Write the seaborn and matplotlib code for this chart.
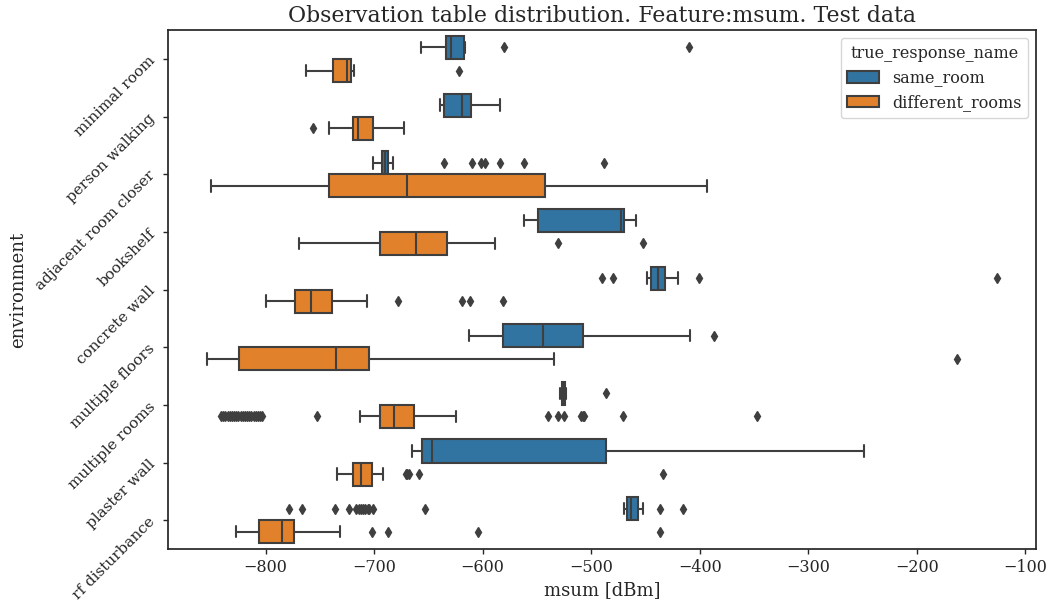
import numpy as np
import pandas as pd
import matplotlib
matplotlib.use("Agg")
import matplotlib.pyplot as plt
import seaborn as sns

environments = ["minimal room", "person walking", "adjacent room closer", "bookshelf",
                "concrete wall", "multiple floors", "multiple rooms", "plaster wall",
                "rf disturbance"]
hue_names = ["same_room", "different_rooms"]

# same_room box statistics (msum dBm)
same_whislo = [-657, -639, -701.5, -562, -448.5, -613, -528.5, -665, -470]
same_q1 = [-634, -636, -693, -549, -444.7, -581.5, -527, -655.5, -467]
same_med = [-629, -619, -690, -473, -438.5, -544, -526, -647, -463]
same_q3 = [-617, -611, -687, -470, -432, -507.3, -524.5, -486, -457.3]
same_whishi = [-616, -584, -683, -459, -420.5, -408.8, -523.5, -248.6, -452]
same_outliers = [
    [-580, -410],
    [],
    [-635.5, -610, -602, -598, -584, -562, -488.5],
    [],
    [-490, -479.6, -400.3, -126.6],
    [-387],
    [-486.3],
    [],
    [-778, -766.6, -736.3, -723, -716.5, -714, -712, -710, -708, -706, -704.3, -701,
     -653.2, -436.6, -415.5],
]

# different_rooms box statistics (msum dBm)
diff_whislo = [-762.5, -742, -850.3, -769.6, -799.2, -853.9, -712.9, -734, -826.8]
diff_q1 = [-738.3, -719.8, -742, -694.8, -772.9, -824.3, -694.5, -719.8, -805.8]
diff_med = [-725.4, -715.2, -670, -661.8, -758.4, -735.3, -682, -712, -784.7]
diff_q3 = [-721.5, -700.7, -542.2, -633.1, -738.9, -705, -663.1, -702, -774.2]
diff_whishi = [-718.2, -672.5, -393.6, -588.7, -706.6, -534, -624.6, -692.2, -731]
diff_outliers = [
    [-622],
    [-756.4],
    [],
    [-531, -452.6],
    [-677.7, -619, -611.4, -581.7],
    [-163.5],
    [-841, -839, -837, -835, -833, -831, -829, -827, -825, -823, -821, -819, -817,
     -815, -813, -811, -809, -807, -805, -803, -752.4, -540.2, -530.7, -524.7,
     -509, -508, -507, -470.5, -347.4],
    [-671, -669.5, -668, -659, -433.7],
    [-701.7, -686.9, -604.5, -436.8],
]

# Build an observation table reproducing the box statistics
REP = 100
rows = []
stats = {
    "same_room": (same_whislo, same_q1, same_med, same_q3, same_whishi, same_outliers),
    "different_rooms": (diff_whislo, diff_q1, diff_med, diff_q3, diff_whishi, diff_outliers),
}
for hue, (lo, q1, med, q3, hi, outl) in stats.items():
    for i, env in enumerate(environments):
        vals = [lo[i], hi[i]] + [q1[i]] * REP + [med[i]] * REP + [q3[i]] * REP + list(outl[i])
        for v in vals:
            rows.append((env, hue, v))
df = pd.DataFrame(rows, columns=["environment", "true_response_name", "msum"])

sns.set_theme(style="ticks")
plt.rcParams["font.family"] = ["DejaVu Serif"]

fig, ax = plt.subplots(figsize=(10.54, 6.03), dpi=100)
fig.subplots_adjust(left=0.159, right=0.983, top=0.950, bottom=0.0896)

sns.boxplot(data=df, x="msum", y="environment", hue="true_response_name",
            order=environments, hue_order=hue_names, orient="h",
            palette=["#1f77b4", "#ff7f0e"], saturation=0.75,
            linecolor="#3f3f3f", linewidth=1.5, fliersize=5,
            flierprops=dict(marker="d", markerfacecolor="#3f3f3f",
                            markeredgecolor="#3f3f3f"),
            ax=ax)

ax.set_title("Observation table distribution. Feature:msum. Test data", fontsize=15.8)
ax.set_xlabel("msum [dBm]", fontsize=13)
ax.set_ylabel("environment", fontsize=13)
ax.tick_params(axis="both", length=3.5, width=1.0, pad=3.5)
ax.tick_params(axis="x", labelsize=11.5)
ax.tick_params(axis="y", labelsize=11, labelrotation=45)
ax.set_xticks([-800, -700, -600, -500, -400, -300, -200, -100])
ax.yaxis.set_label_coords(-0.162, 0.5)
ax.legend(title="true_response_name", loc="upper right", fontsize=11.5,
          title_fontsize=11.5)

fig.savefig("out.png", dpi=100)
